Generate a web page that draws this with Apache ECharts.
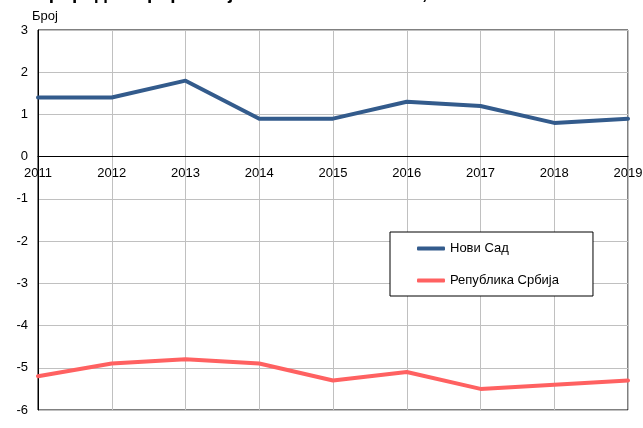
<!DOCTYPE html>
<html><head><meta charset="utf-8">
<script src="https://cdn.jsdelivr.net/npm/echarts@6/dist/echarts.min.js"></script>
<style>html,body{margin:0;padding:0;background:#fff}#c{width:643px;height:428px}</style>
</head><body><div id="c"></div>
<script>
const titleText = 'Природни прираштај на 1000 становника, 2011–2019';
const yName = 'Број';
const years = ['2011','2012','2013','2014','2015','2016','2017','2018','2019'];
const noviSad = [1.4, 1.4, 1.8, 0.9, 0.9, 1.3, 1.2, 0.8, 0.9];
const srbija = [-5.2, -4.9, -4.8, -4.9, -5.3, -5.1, -5.5, -5.4, -5.3];
const seriesNames = ['Нови Сад', 'Република Србија'];

const font = 'Arial, "Liberation Sans", sans-serif';
const gridTop = 30, gridBottom = 18, H = 428;
const yMin = -6, yMax = 3;
const plotH = H - gridTop - gridBottom;
const zeroOffset = -plotH * (0 - yMin) / (yMax - yMin);

const chart = echarts.init(document.getElementById('c'), null, {renderer:'canvas'});
chart.setOption({
  animation: false,
  textStyle: {fontFamily: font},
  graphic: [{type: 'text', x: 35, y: -16, silent: true,
    style: {text: titleText, font: 'bold 19px ' + font, fill: '#000'}}],
  grid: {left: 38, right: 15, top: gridTop, bottom: gridBottom, show: true, borderColor: '#000', borderWidth: 1,
    outerBoundsMode: 'none', containLabel: false},
  legend: {
    orient: 'vertical', left: 390, top: 232,
    padding: [10, 34, 9, 27],
    borderColor: '#000', borderWidth: 1, backgroundColor: '#fff',
    itemWidth: 28, itemHeight: 4, icon: 'roundRect', itemGap: 19,
    textStyle: {fontSize: 13, color: '#000', fontFamily: font},
    data: seriesNames
  },
  xAxis: {
    type: 'category', data: years, boundaryGap: false,
    position: 'bottom', offset: zeroOffset,
    axisLine: {onZero: false, lineStyle: {color: '#000', width: 1}},
    axisTick: {show: false},
    axisLabel: {color: '#000', fontSize: 13, margin: 10, fontFamily: font},
    splitLine: {show: true, lineStyle: {color: '#c0c0c0', width: 1}}
  },
  yAxis: {
    type: 'value', min: yMin, max: yMax, interval: 1,
    name: yName, nameLocation: 'end', nameGap: 7,
    nameTextStyle: {color: '#000', fontSize: 13, align: 'left', padding: [0,0,0,-6], fontFamily: font},
    axisLine: {show: true, lineStyle: {color: '#000', width: 1}},
    axisTick: {show: false},
    axisLabel: {color: '#000', fontSize: 13, margin: 10, fontFamily: font},
    splitLine: {show: true, lineStyle: {color: '#c0c0c0', width: 1}}
  },
  series: [
    {name: seriesNames[0], type: 'line', data: noviSad, symbol: 'none',
     lineStyle: {color: '#335b8c', width: 4, cap: 'round', join: 'round'}, itemStyle: {color: '#335b8c'}},
    {name: seriesNames[1], type: 'line', data: srbija, symbol: 'none',
     lineStyle: {color: '#ff6161', width: 4, cap: 'round', join: 'round'}, itemStyle: {color: '#ff6161'}}
  ]
});
</script></body></html>
